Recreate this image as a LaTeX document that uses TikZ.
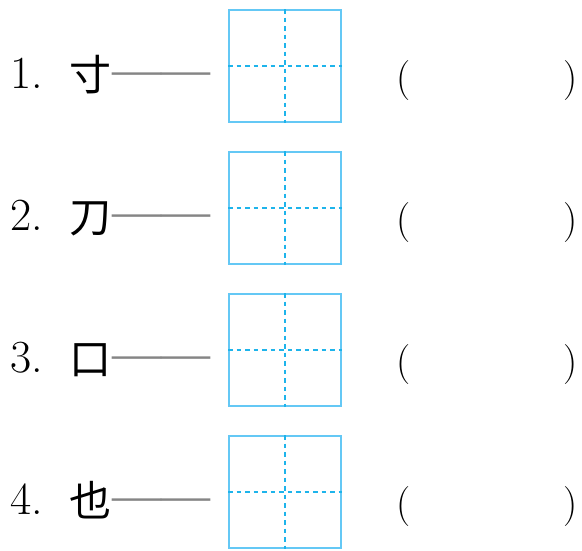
\documentclass[tikz,border=0pt]{standalone}
\usepackage{fontspec}
\newfontfamily\cjk{Noto Sans CJK SC}
\newfontfamily\dashfont{Liberation Serif}
\definecolor{gridblue}{RGB}{100,200,245}
\definecolor{crossblue}{RGB}{30,180,235}

\begin{document}
\begin{tikzpicture}[x=1pt,y=-1pt,
    num/.style={anchor=base west,inner sep=0pt,font=\fontsize{46}{46}\selectfont},
    hanzi/.style={anchor=base,inner sep=0pt,font=\cjk\fontsize{42}{42}\selectfont},
    link/.style={anchor=base west,inner sep=0pt,text=black!48,font=\dashfont\fontsize{49}{49}\selectfont},
    tianzi/.style={draw=gridblue,line width=2pt,minimum size=112pt,inner sep=0pt},
    cross/.style={draw=crossblue,line width=1.6pt,dash pattern=on 4.5pt off 4pt},
    paren/.style={anchor=base,inner sep=0pt,font=\fontsize{40}{40}\selectfont}]
  \useasboundingbox (0,0) rectangle (582,550);
  \foreach \i/\ch in {1/寸,2/刀,3/口,4/也}{
    \pgfmathsetmacro{\yy}{66+142*(\i-1)}
    \node[tianzi] (box\i) at (285,\yy) {};
    \draw[cross] (box\i.north) -- (box\i.south);
    \draw[cross] (box\i.west) -- (box\i.east);
    \node[num] (num\i) at (10,\yy+22) {\i.};
    \node[hanzi] (char\i) at (91,\yy+24) {\ch};
    \node[link] (dash\i) at (112,\yy+19) {——};
    \node[paren] (lp\i) at (404,\yy+24) {(};
    \node[paren] (rp\i) at (571,\yy+24) {)};
  }
\end{tikzpicture}
\end{document}
